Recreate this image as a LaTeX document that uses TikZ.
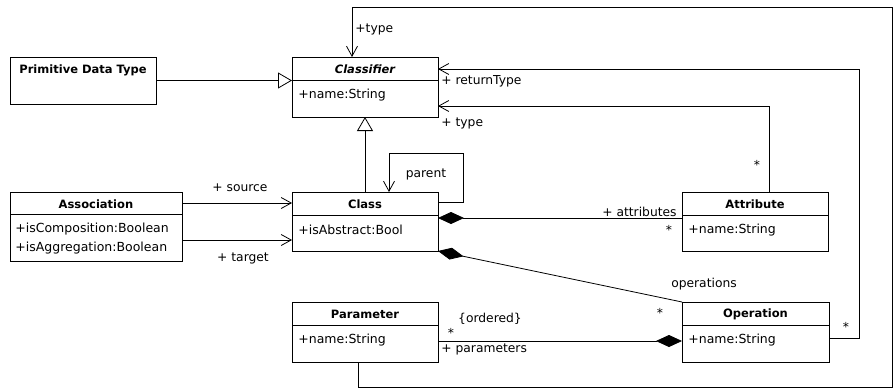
\documentclass[tikz,border=0pt]{standalone}
\usepackage{fontspec}
\setmainfont{DejaVu Sans}
\usetikzlibrary{arrows.meta}

\begin{document}
\begin{tikzpicture}[x=1pt,y=-1pt,
  line width=0.8pt,
  umlbox/.style={draw, inner sep=0pt, outer sep=0pt},
  ttl/.style={font=\fontsize{11.5}{13}\selectfont\bfseries, inner sep=0pt},
  attrtxt/.style={font=\fontsize{12.5}{14}\selectfont, inner sep=0pt, anchor=west},
  lbl/.style={font=\fontsize{12.3}{14}\selectfont, inner sep=0pt},
  navarrow/.style={-{Straight Barb[length=10pt,width=11pt]}},
  genarrow/.style={-{Triangle[open,length=14pt,width=16pt,fill=white]}},
  compsrc/.style={{Diamond[length=26pt,width=12pt]}-},
  comptgt/.style={-{Diamond[length=26pt,width=12pt]}}]
\useasboundingbox (0,0) rectangle (894,388);

% class boxes
\node[umlbox, minimum width=146pt, minimum height=47pt] (prim)  at (83,80.5) {};
\node[umlbox, minimum width=146pt, minimum height=60pt] (clsf)  at (365,87) {};
\node[umlbox, minimum width=172pt, minimum height=69pt] (assoc) at (96,226.5) {};
\node[umlbox, minimum width=146pt, minimum height=59pt] (cls)   at (365,221.5) {};
\node[umlbox, minimum width=146pt, minimum height=59pt] (attr)  at (755,221.5) {};
\node[umlbox, minimum width=146pt, minimum height=60pt] (param) at (365,332) {};
\node[umlbox, minimum width=147pt, minimum height=60pt] (op)    at (755.5,332) {};

% compartment dividers
\draw (clsf.west |- 0,80)   -- (clsf.east |- 0,80);
\draw (assoc.west |- 0,214) -- (assoc.east |- 0,214);
\draw (cls.west |- 0,215)   -- (cls.east |- 0,215);
\draw (attr.west |- 0,215)  -- (attr.east |- 0,215);
\draw (param.west |- 0,325) -- (param.east |- 0,325);
\draw (op.west |- 0,325)    -- (op.east |- 0,325);

% class names and attributes
\node[ttl] (primT) at (83,70) {Primitive Data Type};
\node[ttl, font=\fontsize{11.5}{13}\selectfont\bfseries\itshape] (clsfT) at (365,69) {Classifier};
\node[attrtxt] (clsfA) at (298,95) {+name:String};
\node[ttl] (assocT) at (96,204) {Association};
\node[attrtxt] (assocA) at (15,229) {+isComposition:Boolean};
\node[attrtxt] (assocB) at (15,248) {+isAggregation:Boolean};
\node[ttl] (clsT) at (365,204) {Class};
\node[attrtxt] (clsA) at (298,230) {+isAbstract:Bool};
\node[ttl] (attrT) at (755,204) {Attribute};
\node[attrtxt] (attrA) at (688,230) {+name:String};
\node[ttl] (paramT) at (365,314) {Parameter};
\node[attrtxt] (paramA) at (298,340) {+name:String};
\node[ttl] (opT) at (755.5,314) {Operation};
\node[attrtxt] (opA) at (688,340) {+name:String};

% routing corners
\coordinate (loopc) at (463,153);
\coordinate (rtc) at (859,69);
\coordinate (rb) at (892,387);
\coordinate (rt) at (892,7);

% generalizations
\draw[genarrow] (prim.east) -- (prim.east -| clsf.west);
\draw[genarrow] (cls.north) -- (clsf.south);

% associations
\draw[navarrow] ([yshift=23.5pt]assoc.east) -- ([yshift=18.5pt]cls.west);
\draw[navarrow] ([yshift=-13.5pt]assoc.east) -- ([yshift=-18.5pt]cls.west);
\draw[navarrow] ([yshift=19.5pt]cls.east) -| (loopc) -| ([xshift=24pt]cls.north);
\draw[compsrc] ([yshift=3.5pt]cls.east) -- ([yshift=3.5pt]attr.west);
\draw[compsrc] (cls.south east) -- (op.north west);
\draw[comptgt] ([yshift=-9pt]param.east) -- ([yshift=-9pt]op.west);
\draw[navarrow] ([xshift=14pt]attr.north) |- ([yshift=-19pt]clsf.east);
\draw[navarrow] ([yshift=-6pt]op.east) -| (rtc) -- ([yshift=18pt]clsf.east);
\draw[navarrow] ([xshift=-7pt]param.south) |- (rb) -- (rt) -| ([xshift=-13pt]clsf.north);

% role names and multiplicities
\node[lbl, anchor=west] (lTypeTop) at (355,29) {+type};
\node[lbl, anchor=west] (lRet) at (441,81) {+ returnType};
\node[lbl, anchor=west] (lTypeR) at (441,123) {+ type};
\node[lbl] (mAttrTop) at (757,165) {*};
\node[lbl] (lParent) at (426,174) {parent};
\node[lbl] (lSrc) at (240,188) {+ source};
\node[lbl] (lTgt) at (243,258) {+ target};
\node[lbl, anchor=east] (lAttrs) at (677,212) {+ attributes};
\node[lbl] (mAttrs) at (669,230) {*};
\node[lbl] (lOps) at (704,284) {operations};
\node[lbl] (mOps) at (660,313) {*};
\node[lbl] (mRet) at (846,327) {*};
\node[lbl] (lOrd) at (490,319) {\{ordered\}};
\node[lbl] (mPar) at (451,333) {*};
\node[lbl, anchor=west] (lPar) at (441,349) {+ parameters};
\end{tikzpicture}
\end{document}
